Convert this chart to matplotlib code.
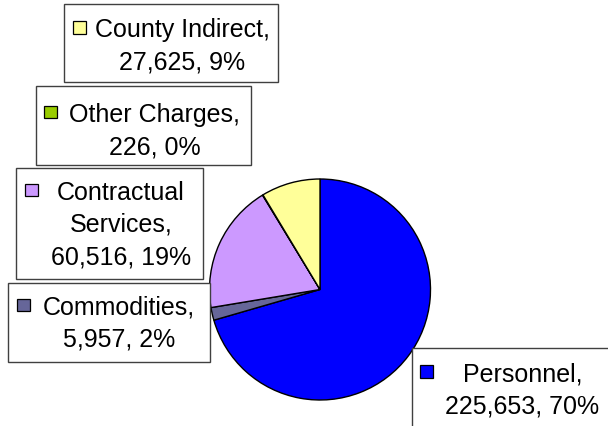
"""Budget pie chart: expenditure by category with boxed callout labels."""
import matplotlib.pyplot as plt
from matplotlib.patches import Rectangle

CATEGORIES = ["Personnel", "Commodities", "Contractual Services", "Other Charges", "County Indirect"]
AMOUNTS = [225653, 5957, 60516, 226, 27625]
COLORS = ["#0000FF", "#666699", "#CC99FF", "#99CC00", "#FFFF99"]

# label text lines as shown in the callouts (first line gets the legend key)
LABEL_LINES = [
    ["Personnel,", "225,653, 70%"],
    ["Commodities,", "5,957, 2%"],
    ["Contractual", "Services,", "60,516, 19%"],
    ["Other Charges,", "226, 0%"],
    ["County Indirect,", "27,625, 9%"],
]

W, H = 608, 427

# callout layout in pixels (top-left origin): box, key x, text centre x, first baseline
BOXES = [
    (412, 349, 210, 90, 420, 522.5, 381.5),
    (8, 284, 202, 79, 17, 119, 315),
    (16, 169, 187, 111, 25, 121, 200),
    (36, 87, 215, 79, 44, 154.5, 122),
    (64, 5, 214, 78, 73, 182.5, 37.5),
]
LINE_PITCH = 32
FONT = "Liberation Sans"
FS = 18


def main():
    fig = plt.figure(figsize=(W / 100, H / 100), dpi=100)
    ax = fig.add_axes([0, 0, 1, 1])

    ax.pie(AMOUNTS, colors=COLORS, center=(320, H - 290.5), radius=110.5,
           startangle=90, counterclock=False,
           wedgeprops=dict(edgecolor="black", linewidth=1.0))
    ax.set_xlim(0, W)
    ax.set_ylim(0, H)
    ax.set_aspect("equal")
    ax.axis("off")

    for lines, color, (bx, by, bw, bh, kx, cx, base) in zip(LABEL_LINES, COLORS, BOXES):
        ax.add_patch(Rectangle((bx, H - by - bh), bw, bh, facecolor="white",
                               edgecolor="#404040", linewidth=1.0, zorder=4))
        ax.add_patch(Rectangle((kx, H - base + 3), 12.5, 12.5, facecolor=color,
                               edgecolor="black", linewidth=0.9, zorder=5))
        for i, line in enumerate(lines):
            ax.text(cx, H - base - i * LINE_PITCH, line, ha="center", va="baseline",
                    fontsize=FS, family=FONT, color="black", zorder=6)

    fig.savefig("out.png", dpi=100)


if __name__ == "__main__":
    main()
